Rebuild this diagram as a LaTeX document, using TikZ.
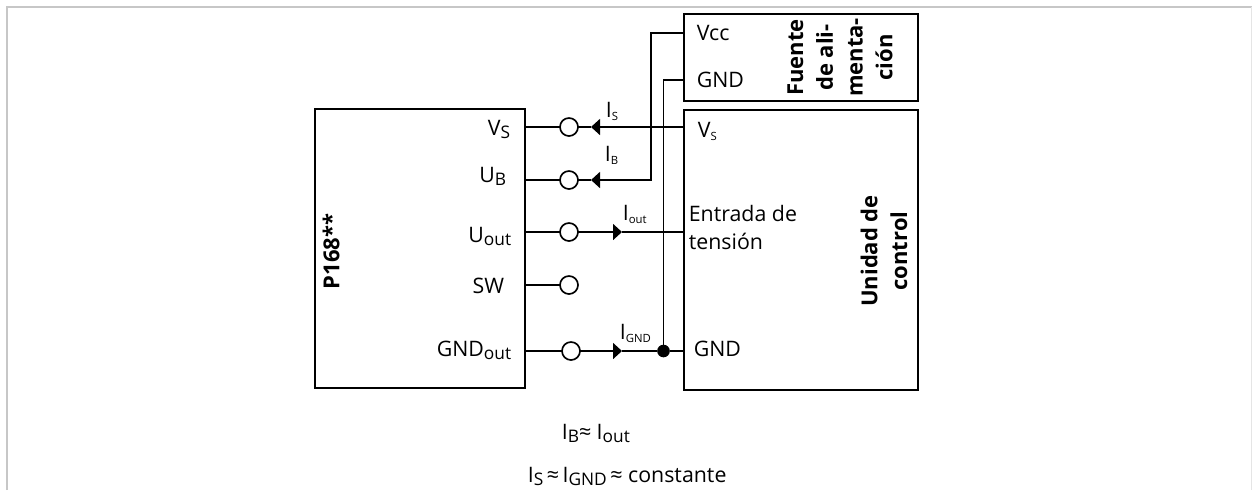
\documentclass[tikz,border=0pt]{standalone}
\usepackage{fontspec}
\setmainfont{Open Sans}
\usetikzlibrary{arrows.meta, positioning}
\newcommand{\lowtxt}[1]{\raisebox{-0.3ex}{\fontsize{13}{13}\selectfont #1}}
\newcommand{\tinytxt}[1]{\raisebox{-0.3ex}{\fontsize{8.5}{8.5}\selectfont #1}}

\begin{document}
\begin{tikzpicture}[
    x=0.75pt, y=-0.75pt,
    >=Triangle,
    line width=1.25pt,
    block/.style={rectangle, draw, outer sep=0pt, inner sep=0pt},
    terminal/.style={circle, draw, fill=white, minimum size=13.5pt, inner sep=0pt, outer sep=0pt},
    junction/.style={circle, fill=black, minimum size=9.5pt, inner sep=0pt, outer sep=0pt},
    tip/.style={-{Triangle[length=6.75pt,width=12pt]}},
    pin/.style={font=\fontsize{16}{19}\selectfont, inner sep=0pt},
    current/.style={font=\fontsize{16}{19}\selectfont, inner sep=0pt},
    title/.style={font=\fontsize{16.5}{22.3}\selectfont\bfseries, rotate=90, align=center, inner sep=0pt},
    frameline/.style={draw=black!22, line width=1.5pt}
]
    \useasboundingbox (0,0) rectangle (1252,490);
    % --- 1. Frame ---
    \coordinate (frame_a) at (7,490);
    \coordinate (frame_b) at (7,6.5);
    \coordinate (frame_c) at (1251.5,6.5);
    \coordinate (frame_d) at (1251.5,490);
    \draw[frameline] (frame_a) -- (frame_b) -- (frame_c);
    \draw[draw=black!10, line width=0.75pt] (frame_c) -- (frame_d);
    % --- 2. Blocks ---
    \node (sensor) [block, minimum width=157.5pt, minimum height=209.25pt] at (420,248.5) {};
    \node (supply) [block, minimum width=175.5pt, minimum height=65.25pt] at (801,57.5) {};
    \node (control) [block, minimum width=175.5pt, minimum height=210pt] at (801,250) {};
    \node (sensor_title) [title, anchor=center] at (331,251.5) {P168**};
    \node (supply_title) [title] at (840,57.5) {Fuente\\de ali-\\menta-\\ción};
    \node (control_title) [title] at (884,251) {Unidad de\\control};
    % --- 3. Terminals ---
    \node (term_vs) [terminal] at (569,127) {};
    \node (term_ub) [terminal] at (569,180) {};
    \node (term_uout) [terminal] at (569,232) {};
    \node (term_sw) [terminal] at (569,285) {};
    \node (term_gnd) [terminal] at (571,351) {};
    \node (dot_gnd) [junction] at (663.5,351) {};
    % We define coordinates on the block edges
    \coordinate (sensor_vs) at (sensor.east |- term_vs);
    \coordinate (sensor_ub) at (sensor.east |- term_ub);
    \coordinate (sensor_uout) at (sensor.east |- term_uout);
    \coordinate (sensor_sw) at (sensor.east |- term_sw);
    \coordinate (sensor_gnd) at (sensor.east |- term_gnd);
    \coordinate (control_vs) at (control.west |- term_vs);
    \coordinate (control_uout) at (control.west |- term_uout);
    \coordinate (control_gnd) at (control.west |- term_gnd);
    \coordinate (supply_vcc) at (supply.west |- 0,33);
    \coordinate (supply_gnd) at (supply.west |- 0,80);
    \coordinate (bend_vcc) at (651,180);
    \coordinate (tip_vs) at (591,127);
    \coordinate (tip_ub) at (591,180);
    \coordinate (tip_uout) at (622,232);
    \coordinate (tip_gnd) at (622,351);
    % --- 4. Wires ---
    \draw (sensor_vs) -- (term_vs);
    \draw (sensor_ub) -- (term_ub);
    \draw (sensor_uout) -- (term_uout);
    \draw (sensor_sw) -- (term_sw);
    \draw (sensor_gnd) -- (term_gnd);
    \draw (term_vs) -- (tip_vs);
    \draw (term_ub) -- (tip_ub);
    \draw[tip] (control_vs) -- (tip_vs);
    \draw[tip] (supply_vcc) -| (bend_vcc) -- (tip_ub);
    \draw[tip] (term_uout) -- (tip_uout);
    \draw (tip_uout) -- (control_uout);
    \draw[tip] (term_gnd) -- (tip_gnd);
    \draw (tip_gnd) -- (dot_gnd);
    \draw (dot_gnd) -- (control_gnd);
    \draw (supply_gnd) -| (dot_gnd);
    % --- 5. Pin labels ---
    \node (label_vs) [pin, anchor=base east] at (511,135) {V\lowtxt{S}};
    \node (label_ub) [pin, anchor=base east] at (507,182) {U\lowtxt{B}};
    \node (label_uout) [pin, anchor=base east] at (512,242) {U\lowtxt{out}};
    \node (label_sw) [pin, anchor=base east] at (505,293) {SW};
    \node (label_gnd) [pin, anchor=base east] at (512,356) {GND\lowtxt{out}};
    \node (label_vcc) [pin, anchor=base west] at (696,40) {Vcc};
    \node (label_sgnd) [pin, anchor=base west] at (696,87) {GND};
    \node (label_cvs) [pin, anchor=base west] at (697,137) {V\tinytxt{S}};
    \node (label_in1) [pin, anchor=base west] at (688,221) {Entrada de};
    \node (label_in2) [pin, anchor=base west] at (688,249) {tensión};
    \node (label_cgnd) [pin, anchor=base west] at (693,356) {GND};
    % --- 6. Current labels ---
    \node (cur_s) [current, anchor=base west] at (605,117) {I\tinytxt{S}};
    \node (cur_b) [current, anchor=base west] at (604,161) {I\tinytxt{B}};
    \node (cur_out) [current, anchor=base west] at (622,220) {I\tinytxt{out}};
    \node (cur_gnd) [current, anchor=base west] at (619,339) {I\tinytxt{GND}};
    % --- 7. Relations ---
    \node (rel_a) [pin, anchor=base west] at (561,439) {I\lowtxt{B}≈ I\lowtxt{out}};
    \node (rel_b) [pin, anchor=base west] at (527,482) {I\lowtxt{S}\,≈\,I\lowtxt{GND}\,≈ constante};
\end{tikzpicture}
\end{document}
